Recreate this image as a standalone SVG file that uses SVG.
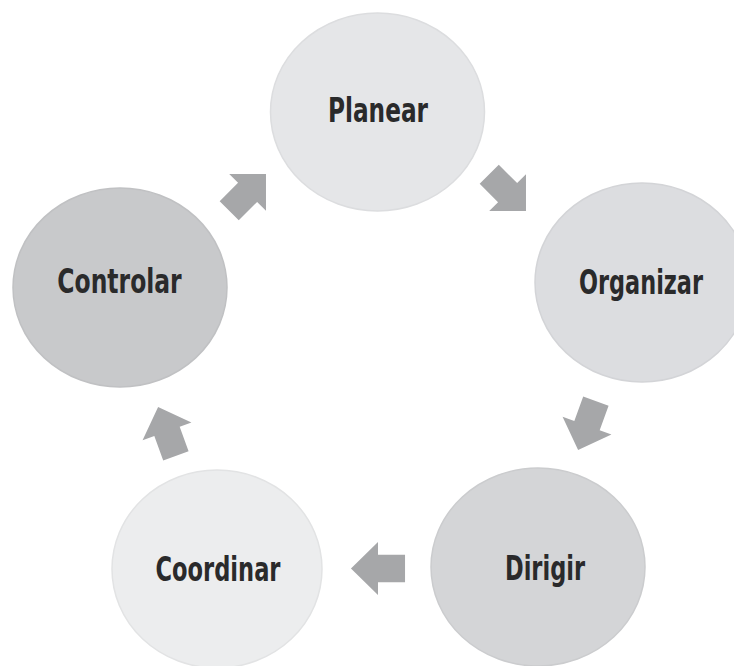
<svg xmlns="http://www.w3.org/2000/svg" xmlns:xlink="http://www.w3.org/1999/xlink" width="734" height="666" viewBox="0 0 734 666">
<style>
.node ellipse { stroke-width: 1.5; }
.lbl { font-family: "DejaVu Sans Condensed", "DejaVu Sans", "Liberation Sans", sans-serif; font-weight: bold; font-size: 34px; fill: #2a2a2b; text-anchor: middle; }
.arrow { fill: #a6a7a9; }
</style>
<defs>
<path id="arr" d="M -26 -13.5 L 0 -13.5 L 0 -26 L 26 0 L 0 26 L 0 13.5 L -26 13.5 Z"/>
</defs>
<rect width="734" height="666" fill="#ffffff"/>
<g id="planear" class="node">
<ellipse cx="377.5" cy="112" rx="107" ry="99" fill="#e5e6e8" stroke="#dcdddf"/>
<text class="lbl" x="378" y="122" textLength="100" lengthAdjust="spacingAndGlyphs">Planear</text>
</g>
<g id="organizar" class="node">
<ellipse cx="642" cy="282.5" rx="107" ry="99.5" fill="#dcdde0" stroke="#d3d4d7"/>
<text class="lbl" x="641" y="294" textLength="124" lengthAdjust="spacingAndGlyphs">Organizar</text>
</g>
<g id="dirigir" class="node">
<ellipse cx="538" cy="567" rx="107" ry="99" fill="#d4d5d7" stroke="#cbccce"/>
<text class="lbl" x="545" y="580" textLength="80" lengthAdjust="spacingAndGlyphs">Dirigir</text>
</g>
<g id="coordinar" class="node">
<ellipse cx="217" cy="569" rx="105" ry="99" fill="#ecedee" stroke="#e2e3e4"/>
<text class="lbl" x="218" y="581" textLength="125" lengthAdjust="spacingAndGlyphs">Coordinar</text>
</g>
<g id="controlar" class="node">
<ellipse cx="120" cy="287.5" rx="107" ry="99.5" fill="#c8c9cb" stroke="#c0c1c3"/>
<text class="lbl" x="119.5" y="293" textLength="124.4" lengthAdjust="spacingAndGlyphs">Controlar</text>
</g>
<g id="connectors" class="arrow">
<use xlink:href="#arr" transform="translate(247.6,192.4) rotate(-45)"/>
<use xlink:href="#arr" transform="translate(507.6,192.6) rotate(45)"/>
<use xlink:href="#arr" transform="translate(587,425.6) rotate(110)"/>
<use xlink:href="#arr" transform="translate(378,568.5) rotate(180) scale(1.04,1.02)"/>
<use xlink:href="#arr" transform="translate(167,431.4) rotate(-110)"/>
</g>
</svg>
